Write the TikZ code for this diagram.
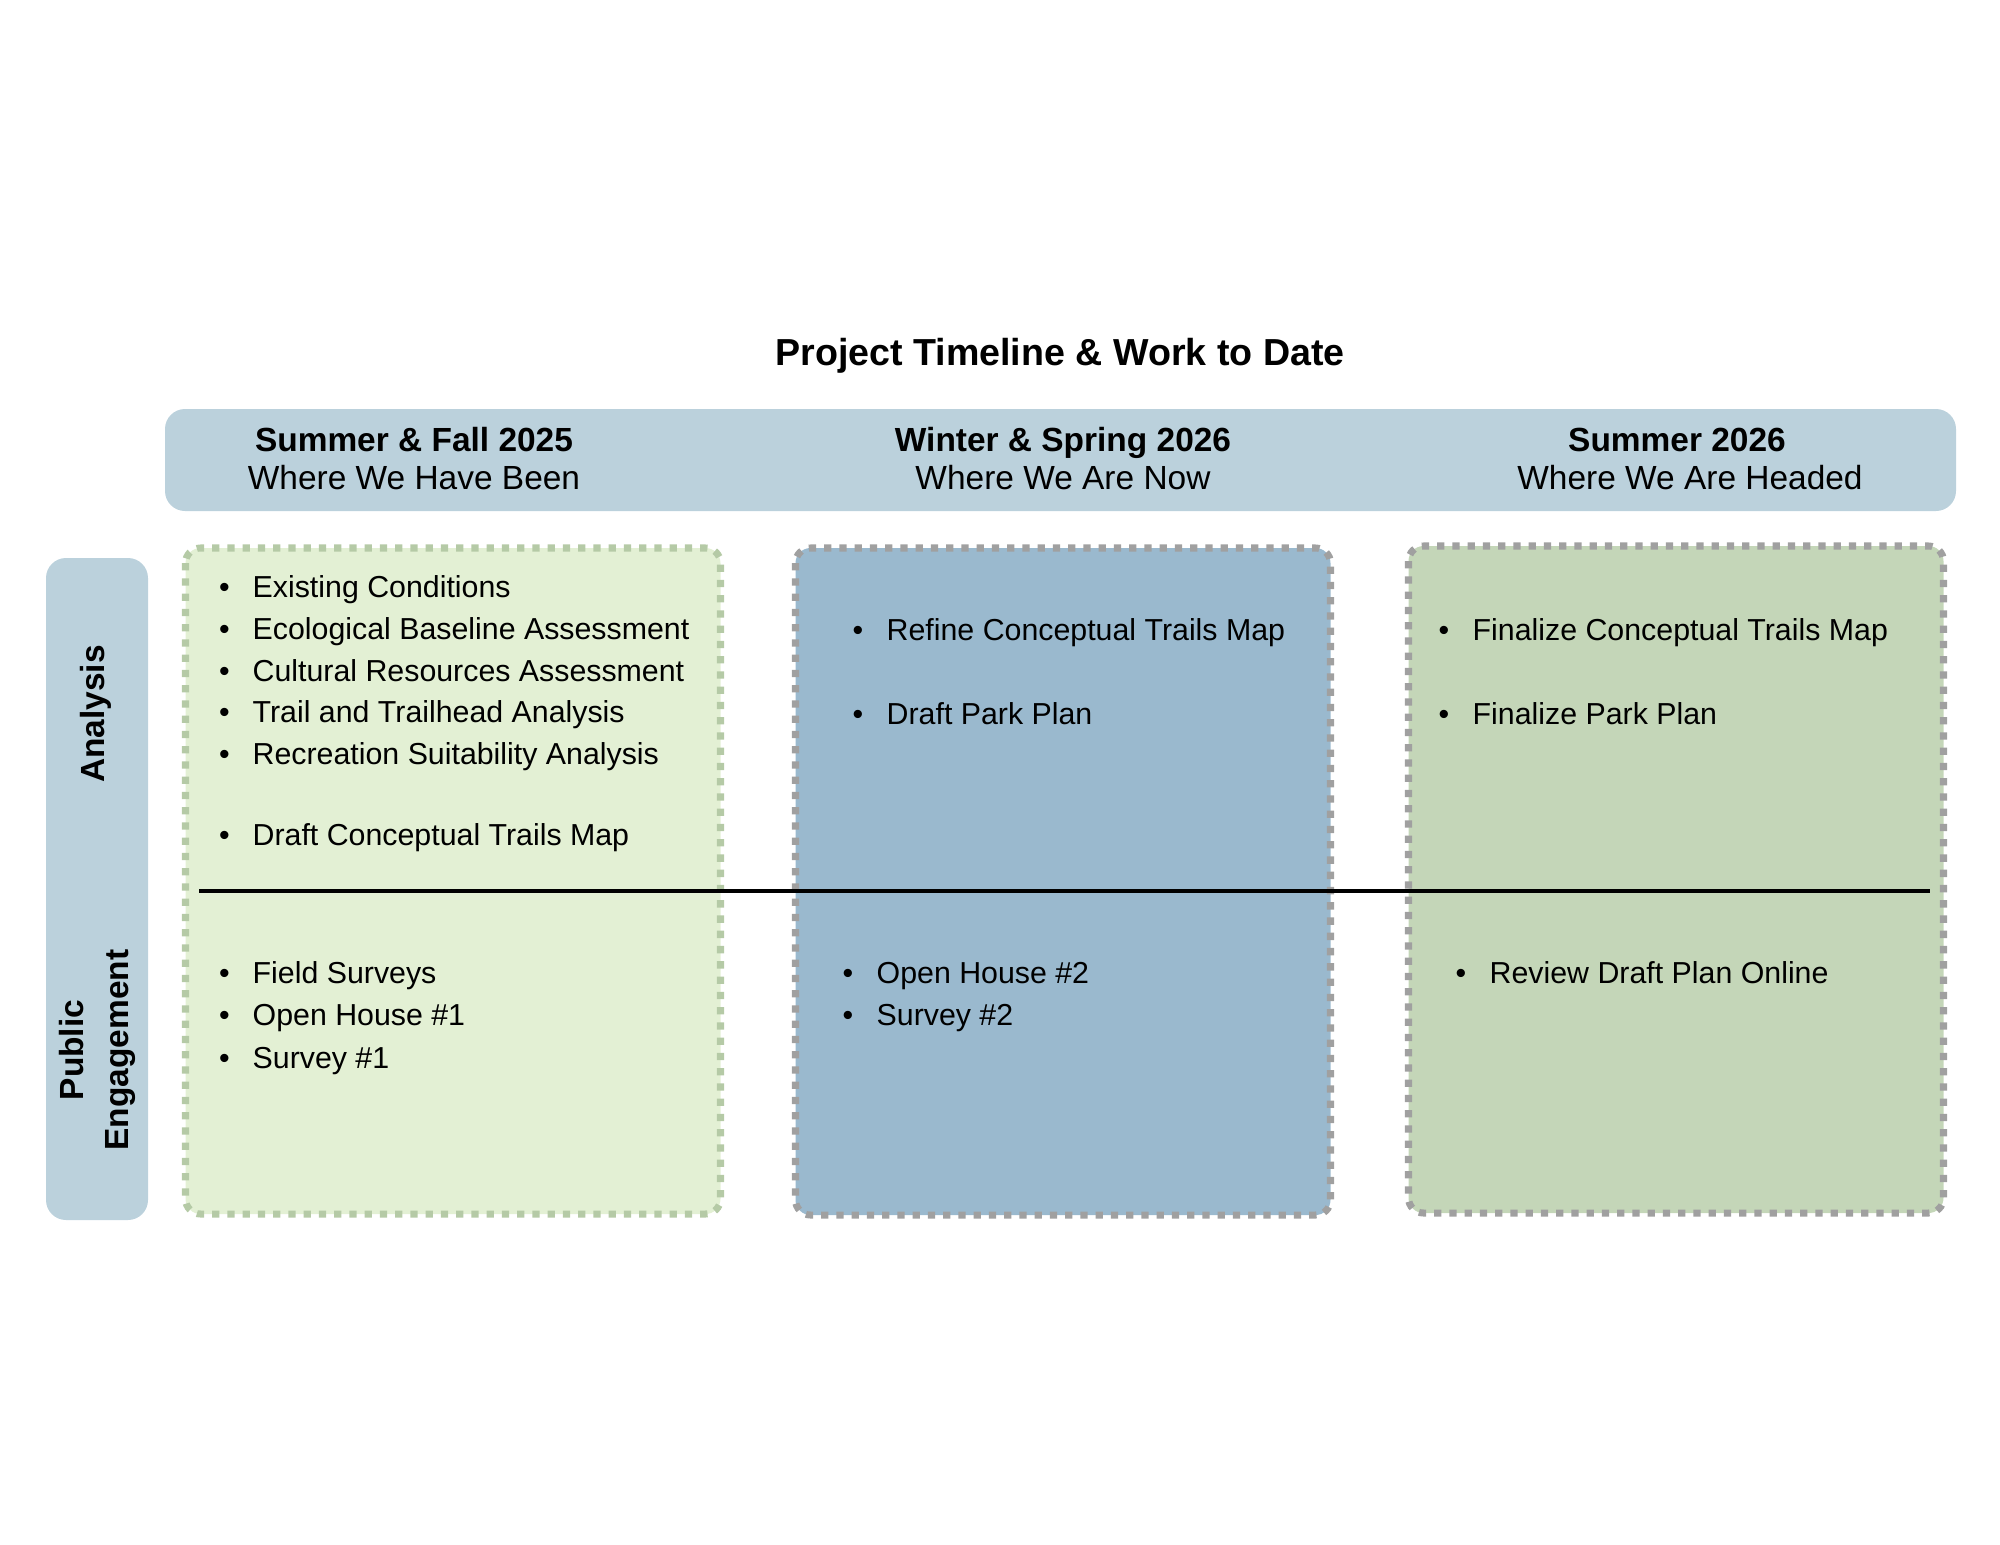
\documentclass[tikz,border=0pt]{standalone}
\usepackage{fontspec}
\setmainfont{Liberation Sans}
\usepackage{xcolor}

\definecolor{headblue}{HTML}{BBD1DC}
\definecolor{pastfill}{HTML}{E3F0D4}
\definecolor{pastline}{HTML}{B5CAA6}
\definecolor{nowfill}{HTML}{9AB9CE}
\definecolor{nextfill}{HTML}{C4D6B8}
\definecolor{greyline}{HTML}{A0A0A0}

\tikzset{
  phase/.style={line width=2pt, dash pattern=on 2.07pt off 2.27pt, rounded corners=1.5mm},
  entry/.style={anchor=base west, inner sep=0pt, font=\fontsize{8.63}{10}\selectfont},
  dot/.style={anchor=base, inner sep=0pt, font=\fontsize{8.63}{10}\selectfont},
  headtop/.style={anchor=base, inner sep=0pt, font=\fontsize{9.52}{11}\selectfont\bfseries},
  headsub/.style={anchor=base, inner sep=0pt, font=\fontsize{9.52}{11}\selectfont},
  sidelabel/.style={rotate=90, inner sep=0pt, align=center, font=\fontsize{9.52}{12.8}\selectfont\bfseries}
}

\begin{document}
\begin{tikzpicture}[x=0.1mm,y=-0.1mm]
\useasboundingbox (0,0) rectangle (2000,1545);

% header band and side band
\coordinate (hb1) at (165,409);
\coordinate (hb2) at (1956,511);
\coordinate (sb1) at (46,558);
\coordinate (sb2) at (148,1220);
\draw[fill=headblue, draw=none, rounded corners=2mm] (hb1) rectangle (hb2);
\draw[fill=headblue, draw=none, rounded corners=2mm] (sb1) rectangle (sb2);

% phase boxes
\coordinate (p1) at (185.5,548);
\coordinate (p2) at (720.5,1214);
\coordinate (n1) at (795.5,548);
\coordinate (n2) at (1330.5,1215);
\coordinate (f1) at (1408.5,546);
\coordinate (f2) at (1943.5,1213);
\draw[phase, fill=pastfill, draw=pastline] (p1) rectangle (p2);
\draw[phase, fill=nowfill, draw=greyline] (n1) rectangle (n2);
\draw[phase, fill=nextfill, draw=greyline] (f1) rectangle (f2);

% divider
\coordinate (d1) at (199,891);
\coordinate (d2) at (1930,891);
\draw[line width=1.14pt] (d1) -- (d2);

\node (title) at (1060,365) [anchor=base, inner sep=0pt, font=\fontsize{10.7}{12}\selectfont\bfseries] {Project Timeline \& Work to Date};

\node (h1) at (414,451) [headtop] {Summer \& Fall 2025};
\node (s1) at (414,489) [headsub] {Where We Have Been};
\node (h2) at (1063,451) [headtop] {Winter \& Spring 2026};
\node (s2) at (1063,489) [headsub] {Where We Are Now};
\node (h3) at (1677,451) [headtop] {Summer 2026};
\node (s3) at (1690,489) [headsub] {Where We Are Headed};

\node (ana) at (104,714) [sidelabel, anchor=base] {Analysis};
\node (pub) at (97.5,1050) [sidelabel] {Public\\Engagement};

% analysis items
\foreach \y/\t [count=\i] in {597/Existing Conditions, 639/Ecological Baseline Assessment,
  681/Cultural Resources Assessment, 722/Trail and Trailhead Analysis,
  764/Recreation Suitability Analysis, 845/Draft Conceptual Trails Map} {
  \node (pb\i) at (224.5,\y) [dot] {\textbullet};
  \node (pa\i) at (252,\y) [entry] {\t};
}
\foreach \y/\t [count=\i] in {640/Refine Conceptual Trails Map, 724/Draft Park Plan} {
  \node (nb\i) at (858,\y) [dot] {\textbullet};
  \node (na\i) at (886,\y) [entry] {\t};
}
\foreach \y/\t [count=\i] in {640/Finalize Conceptual Trails Map, 724/Finalize Park Plan} {
  \node (fb\i) at (1444,\y) [dot] {\textbullet};
  \node (fa\i) at (1472,\y) [entry] {\t};
}

% engagement items
\foreach \y/\t [count=\i] in {983/Field Surveys, 1025/Open House \#1, 1068/Survey \#1} {
  \node (pc\i) at (224.5,\y) [dot] {\textbullet};
  \node (pe\i) at (252,\y) [entry] {\t};
}
\foreach \y/\t [count=\i] in {983/Open House \#2, 1025/Survey \#2} {
  \node (nc\i) at (848,\y) [dot] {\textbullet};
  \node (ne\i) at (876,\y) [entry] {\t};
}
\node (fc1) at (1461,983) [dot] {\textbullet};
\node (fe1) at (1489,983) [entry] {Review Draft Plan Online};

\end{tikzpicture}
\end{document}
